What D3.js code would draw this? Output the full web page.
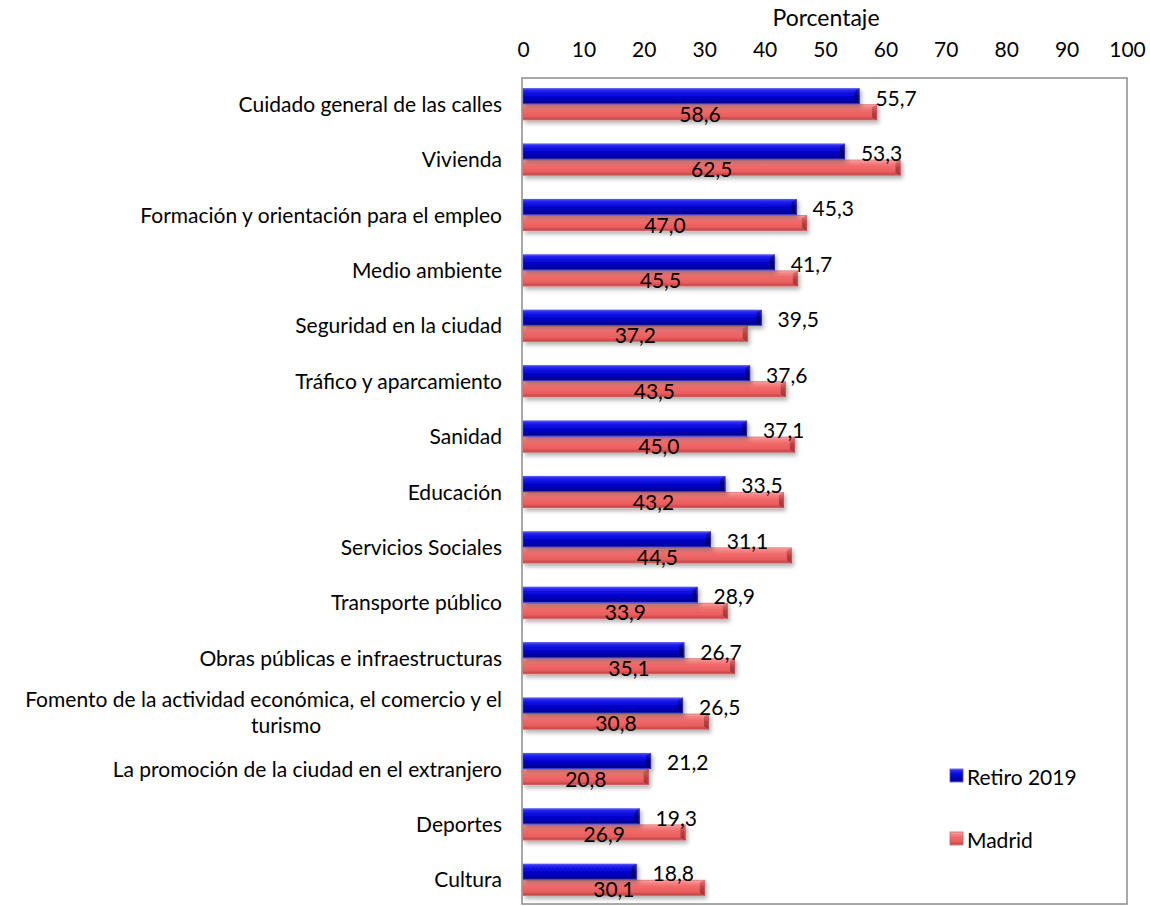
<!DOCTYPE html>
<html>
<head>
<meta charset="utf-8">
<script src="https://cdn.jsdelivr.net/npm/d3@7"></script>
<style>
  html, body { margin: 0; padding: 0; background: #fff; }
  svg { display: block; font-family: Lato, "Open Sans", sans-serif; }
  text { fill: #000; }
</style>
</head>
<body>
<svg id="chart" width="1150" height="906"></svg>
<script>
// datos
const categories = [
  'Cuidado general de las calles', 'Vivienda', 'Formación y orientación para el empleo',
  'Medio ambiente', 'Seguridad en la ciudad', 'Tráfico y aparcamiento', 'Sanidad',
  'Educación', 'Servicios Sociales', 'Transporte público', 'Obras públicas e infraestructuras',
  'Fomento de la actividad económica, el comercio y el turismo',
  'La promoción de la ciudad en el extranjero', 'Deportes', 'Cultura'
];
const retiro = [55.7, 53.3, 45.3, 41.7, 39.5, 37.6, 37.1, 33.5, 31.1, 28.9, 26.7, 26.5, 21.2, 19.3, 18.8];
const madrid = [58.6, 62.5, 47.0, 45.5, 37.2, 43.5, 45.0, 43.2, 44.5, 33.9, 35.1, 30.8, 20.8, 26.9, 30.1];
const seriesNames = ['Retiro 2019', 'Madrid'];
const xTicks = [0, 10, 20, 30, 40, 50, 60, 70, 80, 90, 100];

const fmt = d3.formatLocale({ decimal: ',', thousands: '.', grouping: [3], currency: ['', '€'] }).format('.1f');

const svg = d3.select('#chart');
const plot = { left: 522, right: 1127, top: 78, bottom: 904 };
const fs = 21; // tamaño de letra general

const x = d3.scaleLinear().domain([0, 100]).range([523, 1127]);
const y = d3.scaleBand().domain(categories).range([76.5, 907.5]).paddingInner(0.42).paddingOuter(0.21);
const sub = d3.scaleBand().domain(seriesNames).range([0, y.bandwidth()]);

// gradientes y sombra
const defs = svg.append('defs');
const grad = (id, stops) => {
  const g = defs.append('linearGradient').attr('id', id).attr('x1', 0).attr('y1', 0).attr('x2', 0).attr('y2', 1);
  stops.forEach(([o, c]) => g.append('stop').attr('offset', o).attr('stop-color', c));
};
grad('gBlue', [[0, '#6a6aff'], [0.12, '#2a2af0'], [0.35, '#0a0ae0'], [0.7, '#0000b8'], [0.9, '#000090'], [1, '#3a3ad0']]);
grad('gRed', [[0, '#fbb0b0'], [0.15, '#f58a8a'], [0.4, '#f26a6a'], [0.75, '#e95e5e'], [0.92, '#c84848'], [1, '#e07a7a']]);
grad('gBlueEnd', [[0, '#2020d0'], [0.5, '#00007a'], [1, '#000060']]);
grad('gRedEnd', [[0, '#f07878'], [0.5, '#b84040'], [1, '#a03434']]);
const shadow = defs.append('filter').attr('id', 'shadow').attr('x', '-5%').attr('y', '-50%').attr('width', '110%').attr('height', '250%');
shadow.append('feDropShadow').attr('dx', 2).attr('dy', 3).attr('stdDeviation', 2).attr('flood-color', '#000').attr('flood-opacity', 0.3);

// área del gráfico
svg.append('rect')
  .attr('x', plot.left).attr('y', plot.top)
  .attr('width', plot.right - plot.left).attr('height', plot.bottom - plot.top)
  .attr('fill', '#fff').attr('stroke', '#8c8c8c').attr('stroke-width', 1.5);

// eje superior
const axis = svg.append('g')
  .attr('transform', `translate(0,${plot.top})`)
  .call(d3.axisTop(x).tickValues(xTicks).tickSize(0).tickPadding(21));
axis.select('.domain').remove();
axis.selectAll('text').attr('font-size', fs).attr('font-family', 'Lato, sans-serif').attr('fill', '#000');

svg.append('text')
  .attr('x', 826).attr('y', 26)
  .attr('text-anchor', 'middle').attr('font-size', 23)
  .text('Porcentaje');

// barras
const rows = categories.map((c, i) => ({ cat: c, vals: [retiro[i], madrid[i]] }));
const fills = ['url(#gBlue)', 'url(#gRed)'];
const endFills = ['url(#gBlueEnd)', 'url(#gRedEnd)'];
const strokes = ['#5050d8', '#c86060'];

const group = svg.append('g').selectAll('g').data(rows).join('g')
  .attr('transform', (d) => `translate(0,${y(d.cat)})`);

// rojo primero (debajo), azul encima
[1, 0].forEach((s) => {
  const bar = group.append('g').attr('filter', 'url(#shadow)');
  bar.append('rect')
    .attr('x', x(0))
    .attr('y', sub(seriesNames[s]))
    .attr('width', (d) => x(d.vals[s]) - x(0))
    .attr('height', sub.bandwidth())
    .attr('fill', fills[s]);
  // bisel del extremo
  bar.append('path')
    .attr('d', (d) => {
      const xe = x(d.vals[s]), y0 = sub(seriesNames[s]), h = sub.bandwidth(), b = 5;
      return `M${xe - b},${y0 + 3} L${xe},${y0} L${xe},${y0 + h} L${xe - b},${y0 + h - 3} Z`;
    })
    .attr('fill', endFills[s]);
  bar.append('rect')
    .attr('x', x(0))
    .attr('y', sub(seriesNames[s]) + 0.5)
    .attr('width', (d) => x(d.vals[s]) - x(0) - 0.5)
    .attr('height', sub.bandwidth() - 1)
    .attr('fill', 'none').attr('stroke', strokes[s]).attr('stroke-width', 0.8).attr('stroke-opacity', 0.6);
});

// etiquetas de valores
group.append('text')
  .attr('x', (d) => x(d.vals[0]) + 16)
  .attr('y', sub(seriesNames[0]) + sub.bandwidth() / 2 + 1)
  .attr('dominant-baseline', 'central')
  .attr('font-size', fs)
  .text((d) => fmt(d.vals[0]));

group.append('text')
  .attr('x', (d) => (x(0) + x(d.vals[1])) / 2)
  .attr('y', sub(seriesNames[1]) + sub.bandwidth() / 2 + 1)
  .attr('text-anchor', 'middle')
  .attr('dominant-baseline', 'central')
  .attr('font-size', fs)
  .text((d) => fmt(d.vals[1]));

// etiquetas de categorías (con ajuste de línea)
const labelRight = 502;
const maxLabelW = 490;
const labels = svg.append('g').selectAll('text').data(categories).join('text')
  .attr('font-size', fs)
  .attr('text-anchor', 'end')
  .attr('x', labelRight)
  .attr('y', (d) => y(d) + y.bandwidth() / 2 - 1)
  .attr('dominant-baseline', 'central');

labels.each(function (d) {
  const t = d3.select(this);
  const words = d.split(' ');
  const lines = [];
  let line = [];
  const probe = t.append('tspan');
  words.forEach((w) => {
    line.push(w);
    probe.text(line.join(' '));
    if (probe.node().getComputedTextLength() > maxLabelW && line.length > 1) {
      line.pop();
      lines.push(line.join(' '));
      line = [w];
    }
  });
  lines.push(line.join(' '));
  probe.remove();
  if (lines.length === 1) { t.text(lines[0]); return; }
  const lh = 26;
  const cy = y(d) + y.bandwidth() / 2 - 3;
  t.text(null);
  lines.forEach((l, i) => {
    const yy = cy - ((lines.length - 1) * lh) / 2 + i * lh;
    if (i === 0) {
      t.append('tspan').attr('x', labelRight).attr('y', yy).text(l);
    } else {
      t.append('tspan').attr('x', labelRight - 216).attr('y', yy).attr('text-anchor', 'middle').text(l);
    }
  });
});

// leyenda
const legend = svg.append('g').selectAll('g').data(seriesNames).join('g')
  .attr('transform', (d, i) => `translate(950,${775 + i * 63})`);
legend.append('rect')
  .attr('x', 0).attr('y', -6).attr('width', 13).attr('height', 13)
  .attr('fill', (d, i) => fills[i])
  .attr('stroke', (d, i) => strokes[i]).attr('stroke-width', 0.8);
legend.append('text')
  .attr('x', 17).attr('y', 1)
  .attr('dominant-baseline', 'central')
  .attr('font-size', fs)
  .text((d) => d);
</script>
</body>
</html>
